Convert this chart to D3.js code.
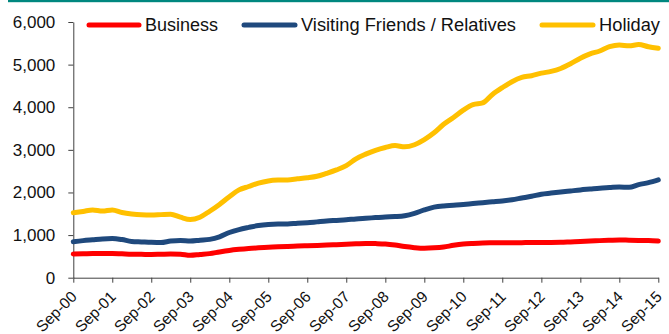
<!DOCTYPE html>
<html>
<head>
<meta charset="utf-8">
<script src="https://cdn.jsdelivr.net/npm/d3@7"></script>
<style>
  html, body { margin: 0; padding: 0; background: #fff; }
  svg { display: block; font-family: "Liberation Sans", Arial, sans-serif; }
</style>
</head>
<body>
<svg id="chart" width="669" height="334"></svg>
<script>
// Quarterly values, Sep-00 through Sep-15 (thousands of visits)
const startMonth = "Sep-00";
const business = [
  555, 560, 570, 570, 570, 560, 550, 548, 545, 550, 555, 550, 525, 545, 565, 605,
  640, 665, 685, 700, 712, 725, 735, 742, 750, 758, 765, 775, 785, 795, 805, 800,
  790, 765, 730, 705, 692, 700, 720, 760, 790, 805, 815, 818, 820, 820, 822, 825,
  825, 826, 830, 840, 850, 860, 870, 878, 885, 880, 875, 870, 860
];
const vfr = [
  845, 870, 890, 910, 920, 895, 850, 840, 830, 825, 860, 875, 860, 880, 900, 960,
  1060, 1130, 1180, 1225, 1250, 1260, 1260, 1280, 1290, 1310, 1330, 1345, 1360, 1380, 1395, 1410,
  1425, 1435, 1455, 1510, 1590, 1655, 1685, 1700, 1720, 1740, 1760, 1780, 1800, 1830, 1870, 1910,
  1960, 1985, 2010, 2035, 2060, 2080, 2100, 2115, 2130, 2120, 2185, 2230, 2295
];
const holiday = [
  1525, 1555, 1590, 1565, 1590, 1530, 1495, 1475, 1470, 1480, 1490, 1420, 1365, 1420, 1560, 1720,
  1900, 2060, 2140, 2220, 2270, 2290, 2295, 2320, 2345, 2380, 2450, 2530, 2630, 2790, 2900, 2990,
  3055, 3100, 3070, 3120, 3240, 3400, 3600, 3760, 3930, 4060, 4100, 4300, 4460, 4600, 4700, 4740,
  4800, 4840, 4910, 5020, 5150, 5250, 5320, 5420, 5460, 5440, 5470, 5420, 5385
];
const seriesNames = ["Business", "Visiting Friends / Relatives", "Holiday"];
const seriesColors = ["#ff0000", "#1f497d", "#ffc000"];
const xTickLabels = ["Sep-00", "Sep-01", "Sep-02", "Sep-03", "Sep-04", "Sep-05", "Sep-06", "Sep-07",
  "Sep-08", "Sep-09", "Sep-10", "Sep-11", "Sep-12", "Sep-13", "Sep-14", "Sep-15"];
const yTicks = [0, 1000, 2000, 3000, 4000, 5000, 6000];

const parse = d3.timeParse("%b-%y");
const fmtX = d3.timeFormat("%b-%y");
const start = parse(startMonth);
const dates = business.map((_, i) => d3.timeMonth.offset(start, 3 * i));
const tickDates = xTickLabels.map(parse);

const svg = d3.select("#chart");
const margin = { left: 73.3, right: 10.7, top: 22, bottom: 56.3 };
const W = 669, H = 334;

const x = d3.scaleTime()
  .domain([tickDates[0], tickDates[tickDates.length - 1]])
  .range([margin.left, W - margin.right]);
const y = d3.scaleLinear()
  .domain([0, 6000])
  .range([H - margin.bottom, margin.top]);

// Teal rule across the top
svg.append("rect")
  .attr("x", 8).attr("y", 0).attr("width", W - 8).attr("height", 2.2)
  .attr("fill", "#00877f");

// Y axis
const yAxis = svg.append("g")
  .attr("transform", `translate(${margin.left},0)`)
  .call(d3.axisLeft(y).tickValues(yTicks).tickSize(5).tickPadding(13)
    .tickSizeOuter(0).tickFormat(d3.format(",")));
yAxis.selectAll("text").attr("font-size", 17).attr("fill", "#111").attr("font-family", "Liberation Sans, Arial, sans-serif");

// X axis with rotated date labels
const xAxis = svg.append("g")
  .attr("transform", `translate(0,${H - margin.bottom})`)
  .call(d3.axisBottom(x).tickValues(tickDates).tickSize(5).tickSizeOuter(0).tickFormat(fmtX));
xAxis.selectAll("text")
  .attr("font-size", 15.5)
  .attr("fill", "#111")
  .attr("font-family", "Liberation Sans, Arial, sans-serif")
  .attr("text-anchor", "end")
  .attr("y", 0).attr("dy", 0)
  .attr("transform", "translate(4,20) rotate(-45)");

svg.selectAll(".domain, .tick line").attr("stroke", "#404040").attr("stroke-width", 1);

// Series lines
const line = d3.line()
  .x((d, i) => x(dates[i]))
  .y(d => y(d))
  .curve(d3.curveMonotoneX);

[business, vfr, holiday].forEach((vals, k) => {
  svg.append("path")
    .datum(vals)
    .attr("d", line)
    .attr("fill", "none")
    .attr("stroke", seriesColors[k])
    .attr("stroke-width", 5)
    .attr("stroke-linecap", "round")
    .attr("stroke-linejoin", "round");
});

// Legend
const legendItems = [
  { x0: 89, x1: 139, tx: 145, tw: 73 },
  { x0: 244, x1: 295, tx: 301, tw: 215 },
  { x0: 542, x1: 593, tx: 599, tw: 61 }
];
const legend = svg.append("g");
legendItems.forEach((it, k) => {
  legend.append("line")
    .attr("x1", it.x0).attr("x2", it.x1).attr("y1", 25).attr("y2", 25)
    .attr("stroke", seriesColors[k]).attr("stroke-width", 5).attr("stroke-linecap", "round");
  legend.append("text")
    .attr("x", it.tx).attr("y", 31.3)
    .attr("font-size", 17.5)
    .attr("fill", "#111")
    .attr("textLength", it.tw)
    .attr("lengthAdjust", "spacingAndGlyphs")
    .text(seriesNames[k]);
});
</script>
</body>
</html>
